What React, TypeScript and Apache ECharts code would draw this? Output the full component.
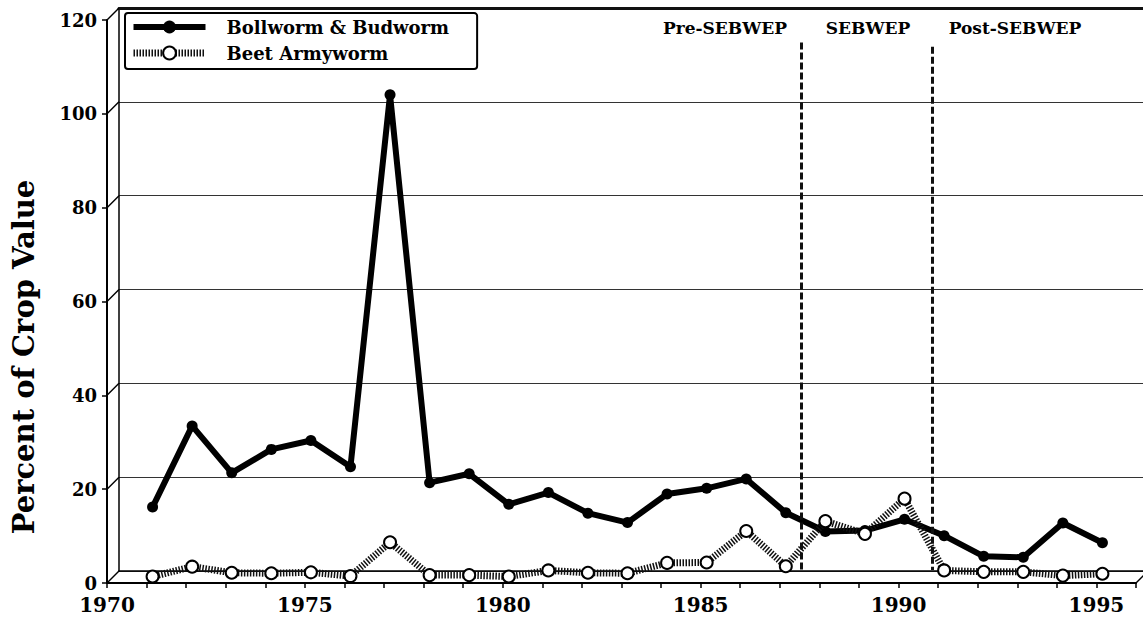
import React, { useEffect, useRef } from "react";
import * as echarts from "echarts";

const years = [1971, 1972, 1973, 1974, 1975, 1976, 1977, 1978, 1979, 1980, 1981, 1982, 1983, 1984, 1985, 1986, 1987, 1988, 1989, 1990, 1991, 1992, 1993, 1994, 1995];
const bollworm = [14.9, 32.2, 22.2, 27.2, 29.1, 23.5, 102.8, 20.1, 22.0, 15.5, 18.0, 13.6, 11.6, 17.7, 18.9, 20.9, 13.7, 9.7, 9.9, 12.3, 8.8, 4.4, 4.2, 11.5, 7.3];
const beet = [0.1, 2.2, 0.9, 0.8, 1.0, 0.2, 7.4, 0.4, 0.4, 0.1, 1.4, 0.9, 0.8, 3.0, 3.1, 9.8, 2.3, 11.9, 9.2, 16.7, 1.4, 1.1, 1.1, 0.3, 0.7];
const yTicks = [0, 20, 40, 60, 80, 100, 120];
const periodBreaks = [1987.4, 1990.7];
const periodLabels = ["Pre-SEBWEP", "SEBWEP", "Post-SEBWEP"];
const seriesNames = ["Bollworm & Budworm", "Beet Armyworm"];
const yTitle = "Percent of Crop Value";

const FONT = "DejaVu Serif";

export default function App() {
  const ref = useRef<HTMLDivElement>(null);
  useEffect(() => {
    if (!ref.current) return;
    const chart = echarts.init(ref.current, undefined, { renderer: "svg" });
    const W = 1029;
    const H = 563;
    const boldLine = { color: "#000", width: 6 };
    const hatchLine = { color: "#111", width: 7, type: [1.5, 1.5] };
    const option: any = {
      animation: false,
      backgroundColor: "#fff",
      grid: [
        { left: 107, top: 20, width: W, height: H },
        { left: 119, top: 8, width: W, height: H },
        { left: 113, top: 14, width: W, height: H },
      ],
      xAxis: [
        {
          gridIndex: 0, type: "value", min: 1970, max: 1996, interval: 1,
          axisLine: { show: true, lineStyle: { color: "#000", width: 2 } },
          axisTick: { show: true, length: 5, lineStyle: { color: "#000", width: 1.5 } },
          axisLabel: {
            formatter: (v: number) => (v % 5 === 0 && v <= 1995 ? String(v) : ""),
            fontSize: 20, fontWeight: "bold", fontFamily: FONT, color: "#000", margin: 12,
          },
          splitLine: { show: false },
        },
        {
          gridIndex: 1, type: "value", min: 1970, max: 1996, position: "bottom",
          axisLine: { show: true, lineStyle: { color: "#000", width: 1.5 } },
          axisTick: { show: false }, axisLabel: { show: false }, splitLine: { show: false },
        },
        {
          gridIndex: 1, type: "value", min: 1970, max: 1996, position: "top",
          axisLine: { show: true, lineStyle: { color: "#111", width: 3 } },
          axisTick: { show: false }, axisLabel: { show: false }, splitLine: { show: false },
        },
        {
          gridIndex: 2, type: "value", min: 1970, max: 1996, show: false,
        },
      ],
      yAxis: [
        {
          gridIndex: 0, type: "value", min: 0, max: 120, interval: 20,
          axisLine: { show: true, lineStyle: { color: "#000", width: 2 } },
          axisTick: { show: true, length: 5, lineStyle: { color: "#000", width: 1.5 } },
          axisLabel: { fontSize: 18, fontWeight: "bold", fontFamily: FONT, color: "#000", margin: 10 },
          splitLine: { show: false },
        },
        {
          gridIndex: 1, type: "value", min: 0, max: 120, interval: 20,
          axisLine: { show: true, lineStyle: { color: "#000", width: 1.5 } },
          axisTick: { show: false }, axisLabel: { show: false },
          splitLine: { show: true, lineStyle: { color: "#333", width: 1 } },
        },
        {
          gridIndex: 2, type: "value", min: 0, max: 120, show: false,
        },
      ],
      legend: {
        data: [
          { name: seriesNames[0], lineStyle: boldLine, itemStyle: { color: "#000" } },
          { name: seriesNames[1], lineStyle: hatchLine, itemStyle: { color: "#fff", borderColor: "#000", borderWidth: 2 } },
        ],
        orient: "vertical",
        left: 125, top: 13,
        itemWidth: 72, itemHeight: 16, itemGap: 8,
        padding: [5, 28, 7, 5],
        borderColor: "#000", borderWidth: 2, borderRadius: 3,
        backgroundColor: "#fff",
        textStyle: { fontSize: 18, fontWeight: "bold", fontFamily: FONT, color: "#000", padding: [0, 0, 0, 16] },
      },
      series: [
        {
          type: "custom",
          xAxisIndex: 0, yAxisIndex: 0,
          silent: true, clip: false, z: 1,
          data: [...yTicks.map((t) => [1970, t]), [1996, 0]],
          renderItem: (params: any, api: any) => {
            const p = api.coord([api.value(0), api.value(1)]);
            return {
              type: "line",
              shape: { x1: p[0], y1: p[1], x2: p[0] + 12, y2: p[1] - 12 },
              style: { stroke: "#000", lineWidth: 1.5 },
            };
          },
        },
        {
          name: seriesNames[0],
          type: "line",
          xAxisIndex: 3, yAxisIndex: 2,
          data: years.map((y, i) => [y, bollworm[i]]),
          symbol: "circle", symbolSize: 11,
          lineStyle: boldLine,
          itemStyle: { color: "#000" },
          z: 3,
          markLine: {
            silent: true, symbol: "none",
            label: { show: false },
            lineStyle: { color: "#111", width: 3, type: [7, 3] },
            data: [
              [{ coord: [periodBreaks[0], 113.9] }, { coord: [periodBreaks[0], 1.5] }],
              [{ coord: [periodBreaks[1], 113.0] }, { coord: [periodBreaks[1], 1.5] }],
            ],
          },
        },
        {
          name: seriesNames[1],
          type: "line",
          xAxisIndex: 3, yAxisIndex: 2,
          data: years.map((y, i) => [y, beet[i]]),
          symbol: "circle", symbolSize: 12,
          lineStyle: hatchLine,
          itemStyle: { color: "#fff", borderColor: "#000", borderWidth: 2 },
          z: 4,
        },
      ],
      graphic: [
        {
          type: "text", x: 24, y: 357, rotation: Math.PI / 2,
          style: { text: yTitle, fontSize: 29, fontWeight: "bold", fontFamily: FONT, fill: "#000", align: "center", verticalAlign: "middle" },
        },
        {
          type: "text", x: 725, y: 28,
          style: { text: periodLabels[0], fontSize: 17, fontWeight: "bold", fontFamily: FONT, fill: "#000", align: "center", verticalAlign: "middle" },
        },
        {
          type: "text", x: 868, y: 28,
          style: { text: periodLabels[1], fontSize: 17, fontWeight: "bold", fontFamily: FONT, fill: "#000", align: "center", verticalAlign: "middle" },
        },
        {
          type: "text", x: 1015, y: 28,
          style: { text: periodLabels[2], fontSize: 17, fontWeight: "bold", fontFamily: FONT, fill: "#000", align: "center", verticalAlign: "middle" },
        },
      ],
    };
    chart.setOption(option);
    return () => chart.dispose();
  }, []);
  return <div ref={ref} style={{ position: "fixed", left: 0, top: 0, width: 1143, height: 625, background: "#fff" }} />;
}
